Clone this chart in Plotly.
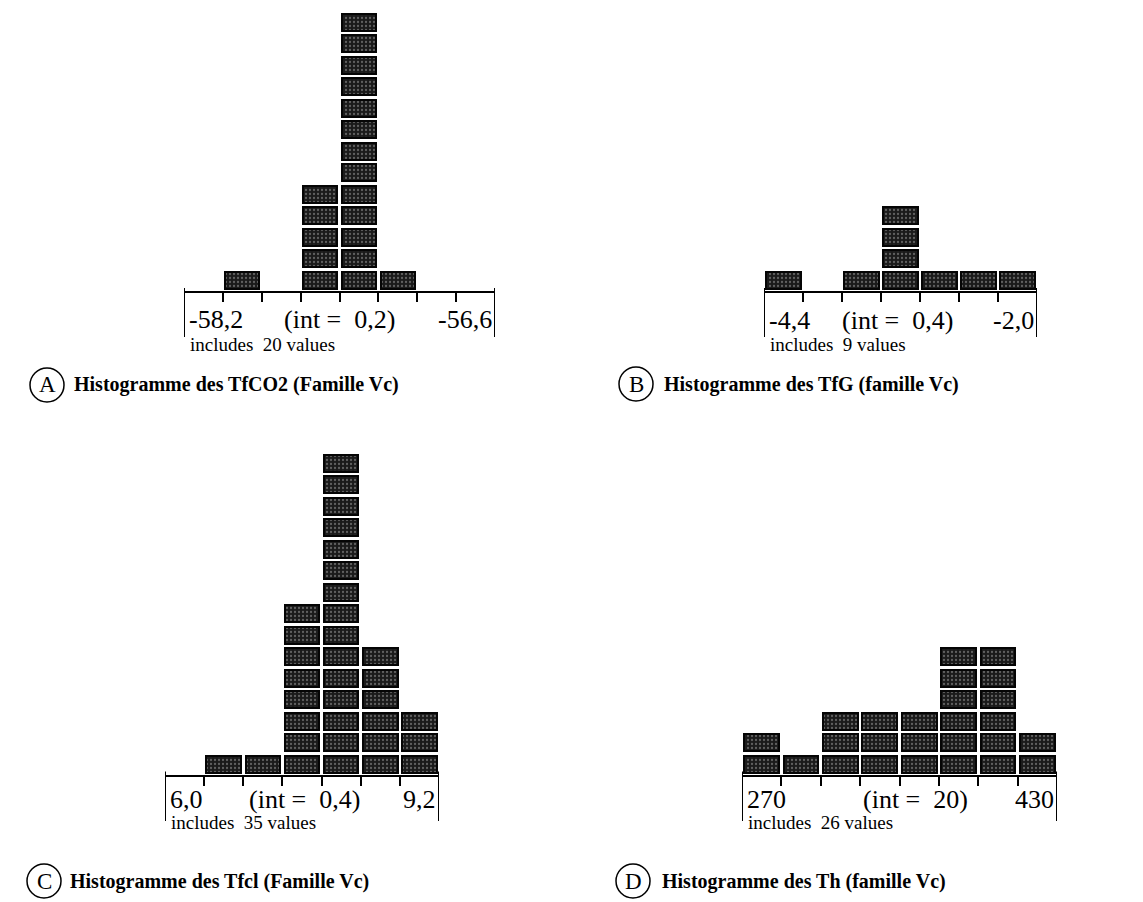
"""
Four block histograms (famille Vc) with plotly
"""
import plotly.graph_objects as go

#* Data: number of values per class
counts_A = [0, 1, 0, 5, 13, 1, 0, 0]
counts_B = [1, 0, 1, 4, 1, 1, 1]
counts_C = [0, 1, 1, 8, 15, 6, 3]
counts_D = [2, 1, 3, 3, 3, 6, 6, 2]

#* Axis texts
lo_labels = ["-58,2", "-4,4", "6,0", "270"]
int_labels = ["0,2", "0,4", "0,4", "20"]
hi_labels = ["-56,6", "-2,0", "9,2", "430"]
n_values = [20, 9, 35, 26]
letters = ["A", "B", "C", "D"]
titles = [
    "Histogramme des TfCO2 (Famille Vc)",
    "Histogramme des TfG (famille Vc)",
    "Histogramme des Tfcl (Famille Vc)",
    "Histogramme des Th (famille Vc)",
]

W, H = 1143, 902
UNIT = 21.5  # px per block

#* Panel placement in pixels: left, right, axis line y, top y
panels = [
    dict(counts=counts_A, x0=184, x1=495, base=291, top=0, mid=0.50, lab=-28, inc=-53),
    dict(counts=counts_B, x0=764, x1=1037, base=291, top=0, mid=0.49, lab=-29, inc=-53),
    dict(counts=counts_C, x0=165, x1=439, base=775, top=430, mid=0.51, lab=-24, inc=-47),
    dict(counts=counts_D, x0=742, x1=1057, base=775, top=430, mid=0.55, lab=-24, inc=-47),
]
title_pos = [(47, 385, 72), (636, 384, 662), (44, 881, 68), (633, 881, 660)]

SERIF = "Liberation Serif, Times New Roman, serif"

fig = go.Figure()
annotations = []
shapes = []

for i, p in enumerate(panels):
    n = len(p["counts"])
    ax = "" if i == 0 else str(i + 1)
    #* one rectangle per value, stacked in its class
    xs, bases = [], []
    for b, c in enumerate(p["counts"]):
        for k in range(c):
            xs.append(b + 0.5)
            bases.append(k + 0.10)
    fig.add_trace(go.Bar(
        x=xs,
        y=[0.80] * len(xs),
        base=bases,
        width=0.88,
        xaxis="x" + ax,
        yaxis="y" + ax,
        showlegend=False,
        hoverinfo="skip",
        marker=dict(
            color="#1a1a1a",
            line=dict(color="#050505", width=2),
            pattern=dict(shape=".", fgcolor="#a8a8a8", bgcolor="#1a1a1a",
                         size=4, solidity=0.25),
        ),
    ))

    dom_h = p["base"] - p["top"]
    fig.update_layout({
        "xaxis" + ax: dict(
            domain=[p["x0"] / W, p["x1"] / W],
            anchor="y" + ax,
            range=[0, n],
            showline=True, linecolor="black", linewidth=2,
            ticks="outside", ticklen=9, tickwidth=2, tickcolor="black",
            tickvals=list(range(1, n)),
            showticklabels=False, showgrid=False, zeroline=False,
            fixedrange=True,
        ),
        "yaxis" + ax: dict(
            domain=[1 - p["base"] / H, 1 - p["top"] / H],
            anchor="x" + ax,
            range=[0, dom_h / UNIT],
            visible=False, fixedrange=True,
        ),
    })

    #* frame sides under the axis
    for xv in (0, n):
        shapes.append(dict(
            type="line", xref="x" + ax, yref="y" + ax + " domain",
            x0=xv, x1=xv, y0=0.01, y1=-46 / dom_h,
            line=dict(color="black", width=2),
        ))

    xd = "x" + ax + " domain"
    yd = "y" + ax + " domain"
    lab_font = dict(family=SERIF, size=26, color="black")
    annotations += [
        dict(text=lo_labels[i], xref=xd, yref=yd, x=0, y=0, xanchor="left",
             yanchor="middle", xshift=3, yshift=p["lab"], showarrow=False, font=lab_font),
        dict(text="(int =\u00a0\u00a0" + int_labels[i] + ")", xref=xd, yref=yd, x=p["mid"], y=0,
             xanchor="center", yanchor="middle", yshift=p["lab"], showarrow=False, font=lab_font),
        dict(text=hi_labels[i], xref=xd, yref=yd, x=1, y=0, xanchor="right",
             yanchor="middle", xshift=-1, yshift=p["lab"], showarrow=False, font=lab_font),
        dict(text="includes\u00a0\u00a0" + str(n_values[i]) + " values", xref=xd, yref=yd,
             x=0, y=0, xanchor="left", yanchor="middle", xshift=4, yshift=p["inc"],
             showarrow=False, font=dict(family=SERIF, size=19, color="black")),
    ]

    #* circled letter and title
    cx, cy, tx = title_pos[i]
    r = 17
    shapes.append(dict(
        type="circle", xref="paper", yref="paper",
        x0=(cx - r) / W, x1=(cx + r) / W, y0=1 - (cy + r) / H, y1=1 - (cy - r) / H,
        line=dict(color="black", width=1.5),
    ))
    annotations += [
        dict(text=letters[i], xref="paper", yref="paper", x=cx / W, y=1 - cy / H,
             xanchor="center", yanchor="middle", showarrow=False,
             font=dict(family=SERIF, size=23, color="black")),
        dict(text="<b>" + titles[i] + "</b>", xref="paper", yref="paper", x=tx / W,
             y=1 - cy / H, xanchor="left", yanchor="middle", showarrow=False,
             font=dict(family=SERIF, size=20, color="black")),
    ]

fig.update_layout(
    width=W,
    height=H,
    margin=dict(l=0, r=0, t=0, b=0),
    paper_bgcolor="white",
    plot_bgcolor="white",
    barmode="overlay",
    bargap=0,
    annotations=annotations,
    shapes=shapes,
)

#* page margin off so the figure sits at the window's corner
fig.write_html("out.html", config={"displayModeBar": False},
               post_script="document.body.style.margin='0';")
